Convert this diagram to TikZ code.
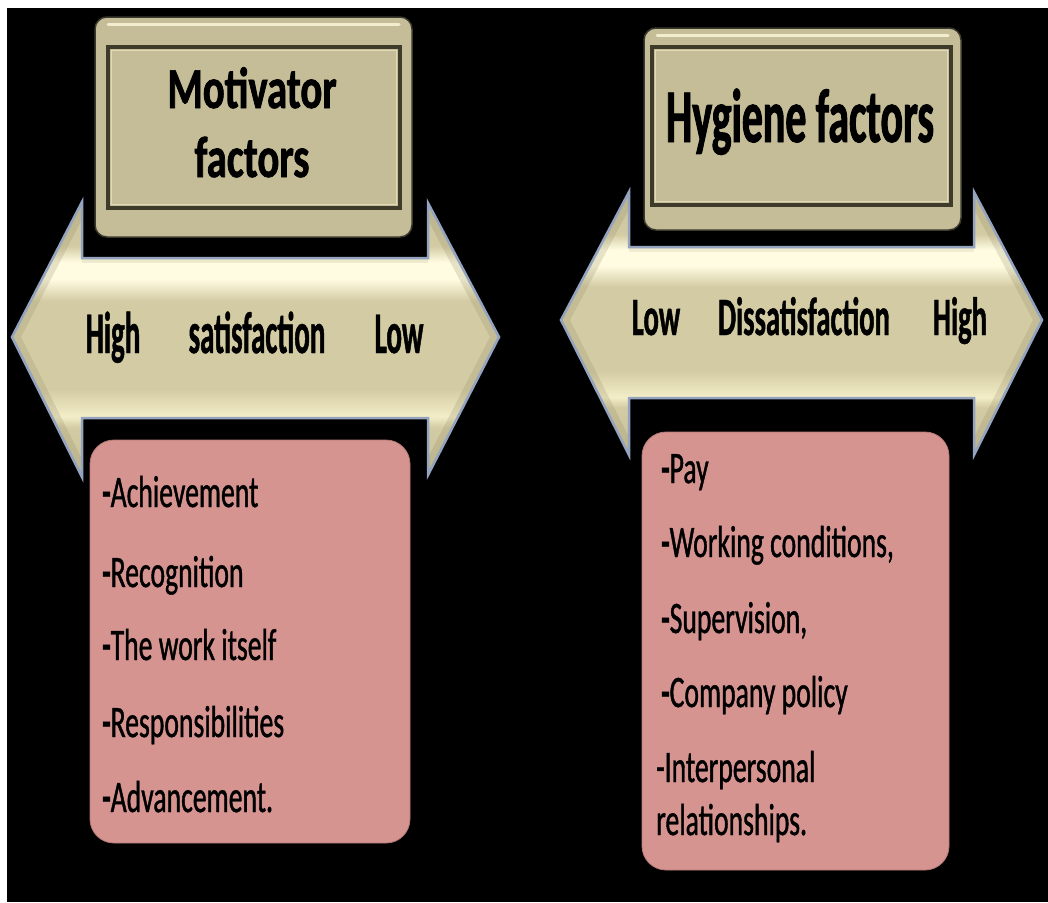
\documentclass[tikz,border=0pt]{standalone}
\usepackage{fontspec}
\setmainfont{Carlito}
\newfontfamily\motfont[FakeStretch=0.70,BoldFeatures={FakeBold=1.2}]{Carlito}
\newfontfamily\hygfont[FakeStretch=0.55,BoldFeatures={FakeBold=1.2}]{Carlito}
\newfontfamily\labfont[FakeStretch=0.49,BoldFeatures={FakeBold=0.8}]{Carlito}
\newfontfamily\labfontR[FakeStretch=0.53,BoldFeatures={FakeBold=0.8}]{Carlito}
\newfontfamily\itemfont[FakeStretch=0.615,FakeBold=0.9]{Carlito}
\definecolor{khaki}{HTML}{C5BD97}
\definecolor{khakilt}{HTML}{F2EDCF}
\definecolor{innerdark}{HTML}{3E3B2B}
\definecolor{headc}{HTML}{C9C199}
\definecolor{midc}{HTML}{D3CBA3}
\definecolor{hlt}{HTML}{FFFCE2}
\definecolor{hlb}{HTML}{F3EEC8}
\definecolor{bevel}{HTML}{8F875F}
\definecolor{edgeblue}{HTML}{93A3C0}
\definecolor{pinkbox}{HTML}{D69491}
\definecolor{pinkedge}{HTML}{B47A77}
\pgfdeclareverticalshading{arrowshade}{100bp}{color(0bp)=(headc); color(25bp)=(headc); color(34bp)=(midc); color(36bp)=(hlb); color(41bp)=(midc); color(57bp)=(midc); color(61bp)=(hlt); color(64bp)=(hlt); color(67bp)=(midc); color(75bp)=(headc); color(100bp)=(headc)}
\begin{document}
\begin{tikzpicture}[x=1pt,y=-1pt,
  outerbox/.style={fill=khaki, draw=black!70!khaki, line width=1.5pt, rounded corners=12pt},
  innerbox/.style={draw=innerdark, line width=4pt, fill=khaki},
  arrowbody/.style={shading=arrowshade},
  arrowedge/.style={draw=edgeblue, line width=2.5pt, line join=miter},
  bevelline/.style={draw=bevel, line width=16pt, opacity=0.22},
  pinkstyle/.style={fill=pinkbox, draw=pinkedge, line width=0.8pt, rounded corners=24pt},
  mottext/.style={font=\motfont\bfseries\fontsize{58}{60}\selectfont, anchor=base, inner sep=0pt},
  hygtext/.style={font=\hygfont\bfseries\fontsize{76}{80}\selectfont, anchor=base, inner sep=0pt},
  labtextL/.style={font=\labfont\bfseries\fontsize{59}{62}\selectfont, anchor=base, inner sep=0pt},
  labtextR/.style={font=\labfontR\bfseries\fontsize{54}{58}\selectfont, anchor=base, inner sep=0pt},
  itemtext/.style={font=\itemfont\fontsize{45}{50}\selectfont, anchor=base west, inner sep=0pt}
]
\useasboundingbox (0,0) rectangle (1048,902);
\fill[white] (0,0) rectangle (1048,902);
\fill[black] (7,8) rectangle (1048,902);

% ---------------- left title box
\path[outerbox] (95,17) rectangle (412,237);
\draw[khakilt, line width=3pt, line cap=round] (108,24) -- (399,24);
\path[innerbox] (108,47) rectangle (400,208);
\draw[khakilt!60!khaki, line width=1.2pt] (111.5,50.5) rectangle (396.5,204.5);
\node[mottext] (mot1) at (252,108) {Motivator};
\node[mottext] (mot2) at (252,177) {factors};

% ---------------- right title box
\path[outerbox] (644,28) rectangle (961,230);
\draw[khakilt, line width=3pt, line cap=round] (657,35) -- (948,35);
\path[innerbox] (652,47) rectangle (951,205);
\draw[khakilt!60!khaki, line width=1.2pt] (655.5,50.5) rectangle (947.5,201.5);
\node[hygtext] (hyg) at (800,142) {Hygiene factors};

% ---------------- left double arrow
\begin{scope}
\path[arrowbody, save path=\arrL] (12,337) -- (82,202) -- (82,258) -- (428,258) -- (428,203)
  -- (499,337) -- (428,475) -- (428,418) -- (82,418) -- (82,477) -- cycle;
\clip[use path=\arrL];
\draw[bevelline] (82,202) -- (12,337) -- (82,477);
\draw[bevelline] (428,203) -- (499,337) -- (428,475);
\draw[bevelline, opacity=0.12, line width=10pt] (82,258) -- (428,258);
\end{scope}
\path[arrowedge, use path=\arrL];
\node[labtextL] (highL) at (113,353) {High};
\node[labtextL] (sat) at (257,353) {satisfaction};
\node[labtextL] (lowL) at (399,353) {Low};

% ---------------- right double arrow
\begin{scope}
\path[arrowbody, save path=\arrR] (561,320) -- (629,192) -- (629,247) -- (974,247) -- (974,192)
  -- (1042,320) -- (974,455) -- (974,398) -- (629,398) -- (629,455) -- cycle;
\clip[use path=\arrR];
\draw[bevelline] (629,192) -- (561,320) -- (629,455);
\draw[bevelline] (974,192) -- (1042,320) -- (974,455);
\draw[bevelline, opacity=0.12, line width=10pt] (629,247) -- (974,247);
\end{scope}
\path[arrowedge, use path=\arrR];
\node[labtextR] (lowR) at (656,335) {Low};
\node[labtextR] (dis) at (804,335) {Dissatisfaction};
\node[labtextR] (highR) at (960,335) {High};

% ---------------- left pink box
\path[pinkstyle] (90,440) rectangle (410,843);
\node[itemtext] (m1) at (102,507) {\textbf{-}Achievement};
\node[itemtext] (m2) at (102,587) {\textbf{-}Recognition};
\node[itemtext] (m3) at (102,660) {\textbf{-}The work itself};
\node[itemtext] (m4) at (102,737) {\textbf{-}Responsibilities};
\node[itemtext] (m5) at (102,812) {\textbf{-}Advancement.};

% ---------------- right pink box
\path[pinkstyle] (642,432) rectangle (949,870);
\node[itemtext] (h1) at (661,483) {\textbf{-}Pay};
\node[itemtext] (h2) at (661,557) {\textbf{-}Working conditions,};
\node[itemtext] (h3) at (661,633) {\textbf{-}Supervision,};
\node[itemtext] (h4) at (661,707) {\textbf{-}Company policy};
\node[itemtext] (h5) at (656,782) {-Interpersonal};
\node[itemtext] (h6) at (656,835) {relationships.};
\end{tikzpicture}
\end{document}
